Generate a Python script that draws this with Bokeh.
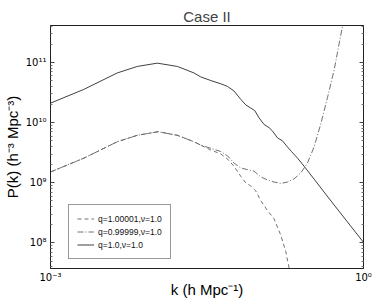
import numpy as np
from bokeh.plotting import figure
from bokeh.models import FixedTicker, LogAxis, Range1d, Legend, LegendItem
from bokeh.embed import file_html
from bokeh.resources import INLINE

# ---- data (log10 k, log10 P) ----
solid_logk = [-3.0, -2.68, -2.36, -2.168, -1.976, -1.784, -1.625, -1.56, -1.464, -1.368,
              -1.304, -1.241, -1.177, -1.129, -1.081, -1.042, -1.001, -0.953, -0.905,
              -0.873, -0.825, -0.777, -0.736, -0.69, -0.632, -0.569, -0.281, 0.0]
solid_logP = [10.325, 10.554, 10.827, 10.935, 10.99, 10.935, 10.827, 10.761, 10.701, 10.647,
              10.603, 10.526, 10.39, 10.297, 10.243, 10.2, 10.08, 9.97, 9.917,
              9.863, 9.748, 9.699, 9.611, 9.52, 9.41, 9.275, 8.63, 8.01]

dashdot_logk = [-3.0, -2.68, -2.36, -2.168, -1.968, -1.784, -1.625, -1.56, -1.464, -1.368,
                -1.304, -1.241, -1.177, -1.113, -1.049, -0.985, -0.92, -0.857, -0.793,
                -0.728, -0.665, -0.601, -0.537, -0.473, -0.409, -0.345, -0.281, -0.2, -0.18]
dashdot_logP = [9.18, 9.41, 9.683, 9.79, 9.85, 9.79, 9.683, 9.627, 9.574, 9.52,
                9.45, 9.328, 9.247, 9.22, 9.193, 9.1, 9.046, 9.013, 8.99,
                9.013, 9.067, 9.165, 9.328, 9.6, 9.982, 10.418, 10.88, 11.616, 11.8]

dashed_logk = [-3.0, -2.68, -2.36, -2.168, -1.968, -1.784, -1.625, -1.56, -1.464, -1.368,
               -1.304, -1.241, -1.177, -1.129, -1.081, -1.033, -0.985, -0.92, -0.857,
               -0.793, -0.745, -0.713, -0.70]
dashed_logP = [9.18, 9.41, 9.683, 9.79, 9.85, 9.79, 9.683, 9.627, 9.546, 9.48,
               9.395, 9.275, 9.11, 9.0, 8.948, 8.866, 8.703, 8.54, 8.4,
               8.13, 7.858, 7.585, 7.4]

x_major = [1e-3, 1.0]
x_labels = ["10\u207b\u00b3", "10\u2070"]
y_major = [1e8, 1e9, 1e10, 1e11]
y_labels = ["10\u2078", "10\u2079", "10\u00b9\u2070", "10\u00b9\u00b9"]
y_minor = [m * 10.0 ** e for e in range(7, 12) for m in range(2, 10)]

labels = ["q=1.00001,\u03bd=1.0", "q=0.99999,\u03bd=1.0", "q=1.0,\u03bd=1.0"]

FONT = "Liberation Sans"
TICKFONT = "DejaVu Sans"

p = figure(width=374, height=300, x_axis_type="log", y_axis_type="log",
           x_range=Range1d(1e-3, 1.0), y_range=Range1d(3.76e7, 4.13e11),
           output_backend="svg", toolbar_location=None,
           min_border_left=50, min_border_right=11, min_border_top=25, min_border_bottom=28)

p.title.text = "Case II"
p.title.align = "center"
p.title.text_font = FONT
p.title.text_font_size = "15px"
p.title.text_font_style = "normal"
p.title.standoff = 2

p.grid.visible = False
p.outline_line_color = "#222222"
p.outline_line_width = 1
p.background_fill_color = "white"
p.border_fill_color = "white"

xt = FixedTicker(ticks=x_major, minor_ticks=[])
yt = FixedTicker(ticks=y_major, minor_ticks=y_minor)

xa = p.xaxis[0]
xa.ticker = xt
xa.major_label_overrides = dict(zip(x_major, x_labels))
xa.axis_label = "k (h Mpc\u207b\u00b9)"
ya = p.yaxis[0]
ya.ticker = yt
ya.major_label_overrides = dict(zip(y_major, y_labels))
ya.axis_label = "P(k) (h\u207b\u00b3 Mpc\u207b\u00b3)"

for ax in (xa, ya):
    ax.major_label_text_font = TICKFONT
    ax.major_label_text_font_size = "10px"
    ax.axis_label_text_font = FONT
    ax.axis_label_text_font_size = "15px"
    ax.axis_label_text_font_style = "normal"
    ax.major_tick_out = 0
    ax.major_tick_in = 4
    ax.minor_tick_out = 0
    ax.minor_tick_in = 2
    ax.axis_line_color = "#222222"
    ax.major_tick_line_color = "#444444"
    ax.minor_tick_line_color = "#777777"
    ax.major_label_text_color = "black"
    ax.axis_label_text_color = "black"
xa.major_label_standoff = 3
xa.axis_label_standoff = -5
ya.major_label_standoff = 4
ya.axis_label_standoff = 2

ra = LogAxis(ticker=yt, major_label_text_font_size="1px", major_label_text_color=None,
             major_tick_out=0, major_tick_in=4,
             minor_tick_out=0, minor_tick_in=2, major_label_standoff=0,
             axis_line_color="#222222", major_tick_line_color="#444444",
             minor_tick_line_color="#777777")
ta = LogAxis(ticker=xt, major_label_text_font_size="1px", major_label_text_color=None,
             major_tick_out=0, major_tick_in=4,
             minor_tick_out=0, minor_tick_in=2, major_label_standoff=0,
             axis_line_color="#222222", major_tick_line_color="#444444")
p.add_layout(ra, "right")
p.add_layout(ta, "above")

to_k = lambda a: [10.0 ** v for v in a]
r1 = p.line(to_k(dashed_logk), to_k(dashed_logP), line_color="#707070", line_width=1,
            line_dash="4 3")
r2 = p.line(to_k(dashdot_logk), to_k(dashdot_logP), line_color="#707070", line_width=1,
            line_dash="6 2 1 2")
r3 = p.line(to_k(solid_logk), to_k(solid_logP), line_color="#404040", line_width=1)

legend = Legend(items=[LegendItem(label=labels[0], renderers=[r1]),
                       LegendItem(label=labels[1], renderers=[r2]),
                       LegendItem(label=labels[2], renderers=[r3])],
                location=(18, 9))
legend.label_text_font = FONT
legend.label_text_font_size = "8.5px"
legend.label_text_color = "#111111"
legend.glyph_width = 17
legend.glyph_height = 11
legend.label_height = 11
legend.label_standoff = 4
legend.spacing = 2
legend.padding = 8
legend.margin = 0
legend.border_line_color = "#333333"
legend.border_line_width = 1
legend.background_fill_alpha = 1.0
p.add_layout(legend, "center")

open("out.html", "w").write(file_html(p, INLINE))
